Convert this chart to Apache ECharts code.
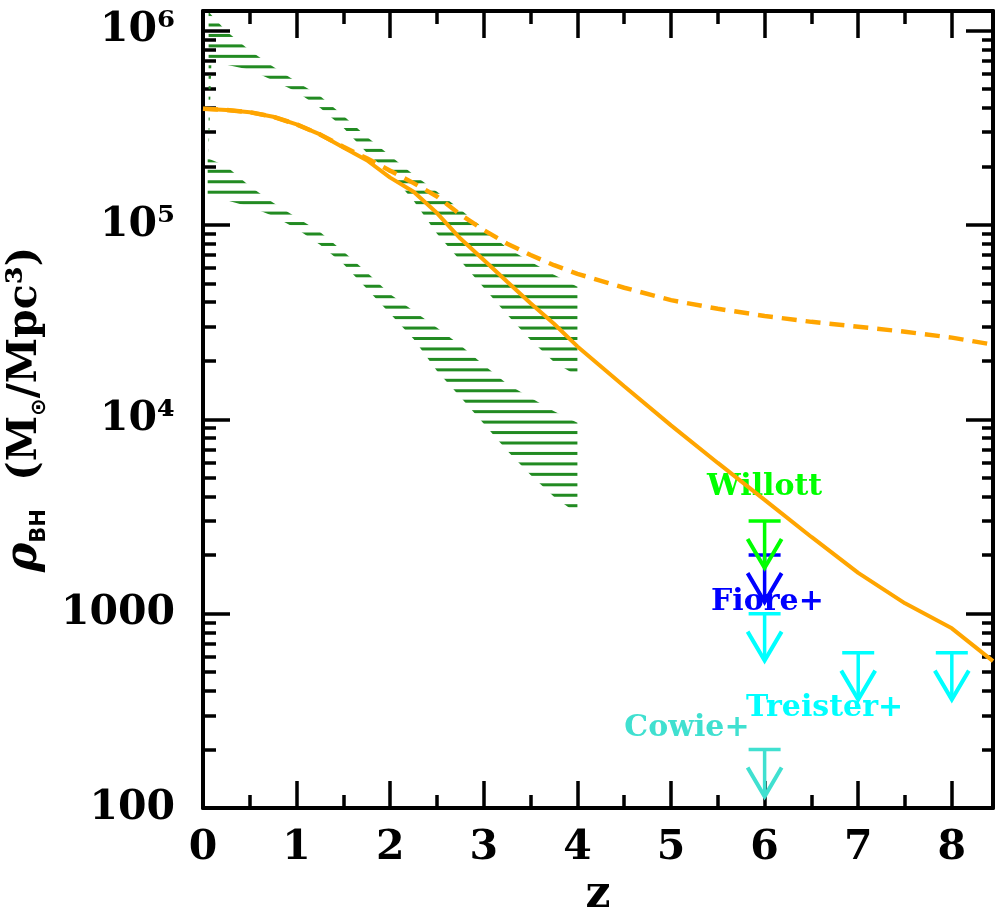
<!DOCTYPE html>
<html>
<head>
<meta charset="utf-8">
<title>Black hole mass density vs redshift</title>
<script src="https://cdn.jsdelivr.net/npm/echarts@6/dist/echarts.min.js"></script>
<style>
  html, body { margin: 0; padding: 0; background: #fff; }
  #chart { width: 995px; height: 910px; }
</style>
</head>
<body>
<div id="chart"></div>
<script>
// ---- data (z, rho_BH in Msun / Mpc^3) ----
const modelZ = [0, 0.25, 0.5, 0.75, 1, 1.25, 1.5, 1.75, 2, 2.25, 2.5, 2.75, 3, 3.25, 3.5, 3.75, 4, 4.5, 5, 5.5, 6, 6.5, 7, 7.5, 8, 8.44];
const modelSolid = [3.96e5, 3.9e5, 3.8e5, 3.6e5, 3.29e5, 2.92e5, 2.5e5, 2.15e5, 1.75e5, 1.48e5, 1.15e5, 8.5e4, 6.6e4, 5.1e4, 3.95e4, 3.1e4, 2.37e4, 1.48e4, 9.3e3, 5.96e3, 3.85e3, 2.48e3, 1.62e3, 1.13e3, 840, 570];
const modelDashed = [3.96e5, 3.9e5, 3.8e5, 3.6e5, 3.29e5, 2.92e5, 2.52e5, 2.2e5, 1.9e5, 1.64e5, 1.4e5, 1.13e5, 9.4e4, 8.0e4, 7.0e4, 6.2e4, 5.6e4, 4.75e4, 4.1e4, 3.7e4, 3.4e4, 3.17e4, 2.99e4, 2.82e4, 2.63e4, 2.42e4];

// hatched band 1 (upper)
const band1Z  = [0.06, 0.09, 0.25, 0.5, 0.75, 1, 1.25, 1.5, 1.75, 2, 2.25, 2.5, 2.75, 3, 3.25, 3.5, 3.75, 4];
const band1Hi = [1.25e6, 1.2e6, 9.9e5, 7.9e5, 6.5e5, 5.45e5, 4.6e5, 3.64e5, 2.84e5, 2.27e5, 1.81e5, 1.48e5, 1.2e5, 9.55e4, 7.6e4, 6.46e4, 5.54e4, 4.8e4];
const band1Lo = [2.3e5, 6.9e5, 6.67e5, 6.28e5, 5.53e5, 4.84e5, 4.0e5, 3.16e5, 2.35e5, 1.83e5, 1.33e5, 9.0e4, 6.53e4, 4.75e4, 3.45e4, 2.56e4, 1.97e4, 1.67e4];

// hatched band 2 (lower)
const band2Z  = [0.05, 0.25, 0.5, 0.75, 1, 1.25, 1.5, 1.75, 2, 2.25, 2.5, 2.75, 3, 3.25, 3.5, 3.75, 4];
const band2Hi = [2.2e5, 2.0e5, 1.58e5, 1.3e5, 1.09e5, 9.2e4, 7.3e4, 5.7e4, 4.4e4, 3.6e4, 2.96e4, 2.4e4, 1.9e4, 1.52e4, 1.29e4, 1.1e4, 9.6e3];
const band2Lo = [1.38e5, 1.34e5, 1.24e5, 1.11e5, 9.55e4, 7.9e4, 6.3e4, 4.69e4, 3.49e4, 2.59e4, 1.77e4, 1.3e4, 9.47e3, 6.88e3, 5.17e3, 3.99e3, 3.26e3];

// upper limits
const fioreZ = [6],         fioreLim = [2000];
const willottZ = [6],       willottLim = [3000];
const treisterZ = [6, 7, 8], treisterLim = [1000, 630, 630];
const cowieZ = [6],         cowieLim = [200];

// annotation labels
const labelText = ['Fiore+', 'Willott', 'Treister+', 'Cowie+'];
const labelZ    = [6.03, 6.0, 6.64, 5.17];
const labelRho  = [1150, 4490, 327, 258];

// axes
const xMajor = [0, 1, 2, 3, 4, 5, 6, 7, 8];
const xMinor = [0.5, 1.5, 2.5, 3.5, 4.5, 5.5, 6.5, 7.5];
const xMax = 8.44;
const yMajorVals = [100, 1000, 1e4, 1e5, 1e6];
const yMajorLabels = ['100', '1000', '10\u2074', '10\u2075', '10\u2076'];
const yMin = 100, yMax = 1.26e6;

const lg = Math.log10;
const yMajor = yMajorVals.map(lg);
const yMinor = [];
for (let d = 2; d <= 6; d++) {
  for (let k = 2; k <= 9; k++) {
    const v = k * Math.pow(10, d);
    if (v < yMax) yMinor.push(lg(v));
  }
}

// horizontal line hatch used for the bands
const hatch = document.createElement('canvas');
hatch.width = 8;
hatch.height = 209;
const hctx = hatch.getContext('2d');
hctx.fillStyle = '#228B22';
for (let k = 0; k < 20; k++) {
  const c = (25 + k * 10.45) % 209;
  hctx.fillRect(0, c - 1.5, 8, 3);
}

const FONT = '"DejaVu Serif", serif';

function bandSeries(z, hi, lo) {
  const pts = z.map((v, i) => [v, lg(hi[i]), lg(lo[i])]);
  return {
    type: 'custom',
    data: pts,
    renderItem: function (params, api) {
      if (params.dataIndex !== 0) return null;
      const top = pts.map(p => api.coord([p[0], p[1]]));
      const bot = pts.slice().reverse().map(p => api.coord([p[0], p[2]]));
      return {
        type: 'polygon',
        shape: { points: top.concat(bot) },
        style: { fill: { image: hatch, repeat: 'repeat' }, stroke: null }
      };
    }
  };
}

function limitSeries(z, lim, color, labelIdx) {
  return {
    type: 'custom',
    data: z.map((v, i) => [v, lg(lim[i])]),
    renderItem: function (params, api) {
      const p = api.coord([api.value(0), api.value(1)]);
      const x = p[0], y = p[1], tip = y + 47;
      const st = { stroke: color, lineWidth: 3.5, fill: null };
      const kids = [
        { type: 'line', shape: { x1: x - 16, y1: y, x2: x + 16, y2: y }, style: st },
        { type: 'line', shape: { x1: x, y1: y, x2: x, y2: tip }, style: st },
        { type: 'polyline', shape: { points: [[x - 17, tip - 29], [x, tip], [x + 17, tip - 29]] }, style: { stroke: color, lineWidth: 4, fill: null } }
      ];
      if (params.dataIndex === 0) {
        const lp = api.coord([labelZ[labelIdx], lg(labelRho[labelIdx])]);
        kids.unshift({
          type: 'text', x: lp[0], y: lp[1],
          style: {
            text: labelText[labelIdx], fill: color,
            font: 'bold 30px ' + FONT, align: 'center', verticalAlign: 'middle'
          }
        });
      }
      return { type: 'group', children: kids };
    }
  };
}

const tickStyle = { color: '#000', width: 3.5 };
const frameLine = { onZero: false, lineStyle: { color: '#000', width: 4 } };
const noLine = { show: false, onZero: false };

function xAx(pos, ticks, len, withLine, withLabel) {
  const ax = {
    type: 'value', position: pos, min: 0, max: xMax,
    axisLine: withLine ? frameLine : noLine,
    axisTick: { inside: true, length: len, customValues: ticks, lineStyle: tickStyle },
    axisLabel: { show: false },
    splitLine: { show: false }
  };
  if (withLabel) {
    ax.axisLabel = {
      show: true, customValues: xMajor, margin: 20, color: '#000',
      fontFamily: FONT, fontWeight: 'bold', fontSize: 41,
      formatter: v => String(v)
    };
    ax.name = 'z';
    ax.nameLocation = 'middle';
    ax.nameGap = 55;
    ax.nameTextStyle = { color: '#000', fontFamily: FONT, fontWeight: 'bold', fontSize: 44 };
  }
  return ax;
}

function yAx(pos, ticks, len, withLine, withLabel) {
  const ax = {
    type: 'value', position: pos, min: lg(yMin), max: lg(yMax),
    axisLine: withLine ? frameLine : noLine,
    axisTick: { inside: true, length: len, customValues: ticks, lineStyle: tickStyle },
    axisLabel: { show: false },
    splitLine: { show: false }
  };
  if (withLabel) {
    ax.axisLabel = {
      show: true, customValues: yMajor, margin: 28, color: '#000',
      fontFamily: FONT, fontWeight: 'bold', fontSize: 41,
      formatter: v => yMajorLabels[Math.round(v) - 2]
    };
    ax.name = '{r|\u03C1}{s|BH}{t|  (M}{s|\u2299}{t|/Mpc\u00B3)}';
    ax.nameLocation = 'middle';
    ax.nameRotate = 90;
    ax.nameGap = 138;
    ax.nameTextStyle = {
      color: '#000',
      rich: {
        r: { fontFamily: FONT, fontStyle: 'italic', fontWeight: 'bold', fontSize: 44, lineHeight: 50, color: '#000' },
        t: { fontFamily: FONT, fontWeight: 'bold', fontSize: 41, lineHeight: 50, color: '#000' },
        s: { fontFamily: '"DejaVu Sans", sans-serif', fontWeight: 'bold', fontSize: 21, lineHeight: 22, verticalAlign: 'bottom', color: '#000' }
      }
    };
  }
  return ax;
}

const chart = echarts.init(document.getElementById('chart'));
chart.setOption({
  animation: false,
  backgroundColor: '#fff',
  grid: { left: 203, right: 2, top: 11, bottom: 102, containLabel: false, outerBoundsMode: 'none' },
  xAxis: [
    xAx('bottom', xMajor, 27, true, true),
    xAx('bottom', xMinor, 13, false, false),
    xAx('top', xMajor, 27, true, false),
    xAx('top', xMinor, 13, false, false)
  ],
  yAxis: [
    yAx('left', yMajor, 27, true, true),
    yAx('left', yMinor, 13, false, false),
    yAx('right', yMajor, 27, true, false),
    yAx('right', yMinor, 11, false, false)
  ],
  series: [
    bandSeries(band1Z, band1Hi, band1Lo),
    bandSeries(band2Z, band2Hi, band2Lo),
    limitSeries(fioreZ, fioreLim, '#0000FF', 0),
    limitSeries(willottZ, willottLim, '#00FF00', 1),
    limitSeries(treisterZ, treisterLim, '#00FFFF', 2),
    limitSeries(cowieZ, cowieLim, '#40E0D0', 3),
    {
      type: 'line', showSymbol: false, silent: true,
      data: modelZ.map((z, i) => [z, lg(modelDashed[i])]),
      lineStyle: { color: '#FFA500', width: 4.5, type: [15, 9] }
    },
    {
      type: 'line', showSymbol: false, silent: true,
      data: modelZ.map((z, i) => [z, lg(modelSolid[i])]),
      lineStyle: { color: '#FFA500', width: 4 }
    }
  ]
});
</script>
</body>
</html>
